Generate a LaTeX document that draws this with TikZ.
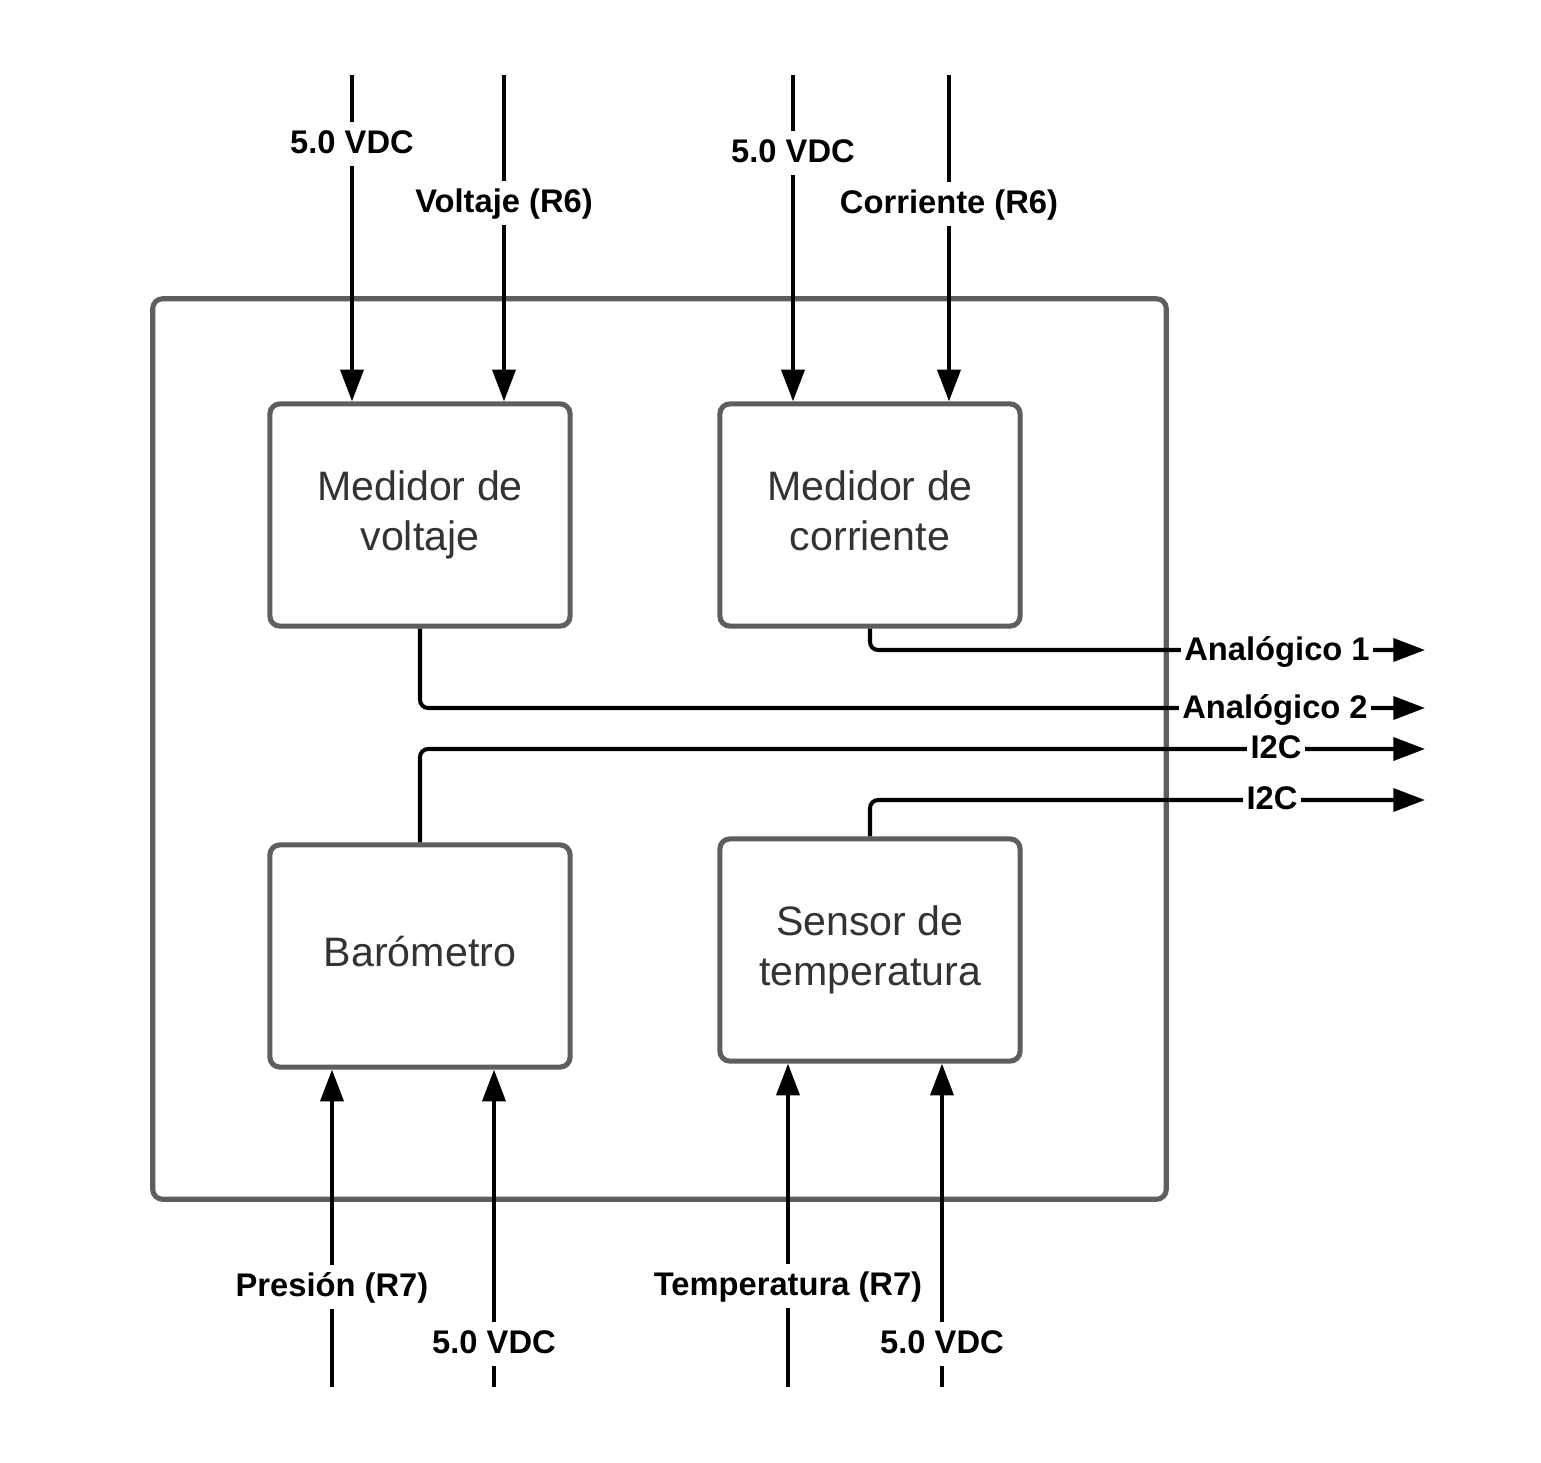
\documentclass[tikz,border=0pt]{standalone}
\usepackage{fontspec}
\setmainfont{Liberation Sans}
\usetikzlibrary{arrows.meta}
\definecolor{boxgray}{HTML}{5E5E5E}
\definecolor{txtgray}{HTML}{333333}
\tikzset{
  frame/.style={draw=boxgray, line width=1.45pt, rounded corners=2.8pt, minimum width=10.13cm, minimum height=9cm, inner sep=0pt},
  block/.style={draw=boxgray, line width=1.45pt, rounded corners=2.8pt, fill=white, minimum width=3cm, minimum height=2.22cm, align=center, text=txtgray, text depth=0.25em, font=\fontsize{11.7}{14.2}\selectfont},
  conn/.style={line width=1.15pt, -{Triangle[length=9pt,width=6.5pt]}},
  lbl/.style={fill=white, font=\fontsize{9.3}{11}\selectfont\bfseries, text height=0.8em, text depth=0.25em, inner xsep=1pt, inner ysep=1pt}
}
\begin{document}
\begin{tikzpicture}[x=0.01cm,y=-0.01cm]
\useasboundingbox (0,0) rectangle (1541,1463);
\node[frame] (board) at (659.5,749) {};
\node[block] (volt) at (420,515) {Medidor de\\voltaje};
\node[block] (corr) at (870,515) {Medidor de\\corriente};
\node[block] (baro) at (420,956) {Barómetro};
\node[block] (temp) at (870,950) {Sensor de\\temperatura};
\coordinate (in1) at (352,75);
\coordinate (in2) at (504,75);
\coordinate (in3) at (793,75);
\coordinate (in4) at (949,75);
\coordinate (in5) at (332,1387);
\coordinate (in6) at (494,1387);
\coordinate (in7) at (788,1387);
\coordinate (in8) at (942,1387);
\coordinate (out1) at (1425,650);
\coordinate (out2) at (1425,708);
\coordinate (out3) at (1425,749);
\coordinate (out4) at (1425,800);
\draw[conn] (in1) -- (in1 |- volt.north);
\node[lbl] (lin1) at (352,144) {5.0 VDC};
\draw[conn] (in2) -- (in2 |- volt.north);
\node[lbl] (lin2) at (504,203) {Voltaje (R6)};
\draw[conn] (in3) -- (in3 |- corr.north);
\node[lbl] (lin3) at (793,153) {5.0 VDC};
\draw[conn] (in4) -- (in4 |- corr.north);
\node[lbl] (lin4) at (949,204) {Corriente (R6)};
\draw[conn] (in5) -- (in5 |- baro.south);
\node[lbl] (lin5) at (332,1287) {Presión (R7)};
\draw[conn] (in6) -- (in6 |- baro.south);
\node[lbl] (lin6) at (494,1344) {5.0 VDC};
\draw[conn] (in7) -- (in7 |- temp.south);
\node[lbl] (lin7) at (788,1286) {Temperatura (R7)};
\draw[conn] (in8) -- (in8 |- temp.south);
\node[lbl] (lin8) at (942,1344) {5.0 VDC};
\draw[conn, rounded corners=2.3pt] (corr.south) |- (out1);
\node[lbl] (lout1) at (1277,651) {Analógico 1};
\draw[conn, rounded corners=2.3pt] (volt.south) |- (out2);
\node[lbl] (lout2) at (1275,709) {Analógico 2};
\draw[conn, rounded corners=2.3pt] (baro.north) |- (out3);
\node[lbl] (lout3) at (1276,749) {I2C};
\draw[conn, rounded corners=2.3pt] (temp.north) |- (out4);
\node[lbl] (lout4) at (1272,800) {I2C};
\end{tikzpicture}
\end{document}
